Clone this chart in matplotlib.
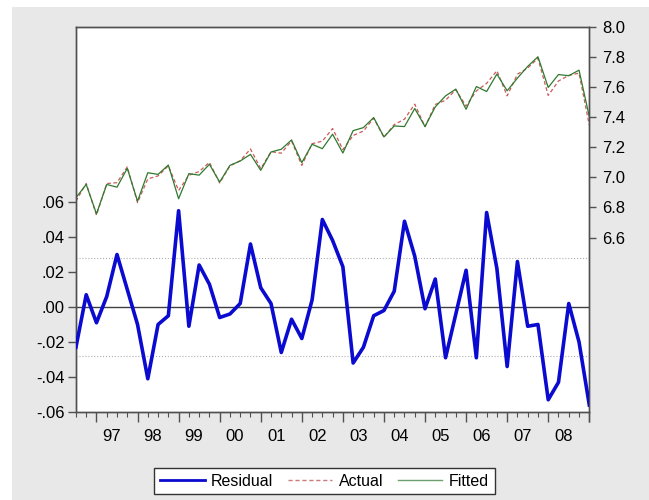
import matplotlib
matplotlib.use('Agg')
import matplotlib.pyplot as plt
from matplotlib.lines import Line2D
from matplotlib.patches import Rectangle
import numpy as np

plt.rcParams['font.family'] = ['Liberation Sans', 'DejaVu Sans']

# quarterly sample 1996Q3 - 2009Q1
years = ['97', '98', '99', '00', '01', '02', '03', '04', '05', '06', '07', '08']

residual = [-0.023, 0.007, -0.009, 0.006, 0.030, 0.010, -0.010, -0.041, -0.010, -0.005,
            0.055, -0.011, 0.024, 0.013, -0.006, -0.004, 0.002, 0.036, 0.011, 0.002,
            -0.026, -0.007, -0.018, 0.004, 0.050, 0.038, 0.023, -0.032, -0.023, -0.005,
            -0.002, 0.009, 0.049, 0.029, -0.001, 0.016, -0.029, -0.004, 0.021, -0.029,
            0.054, 0.022, -0.034, 0.026, -0.011, -0.010, -0.053, -0.043, 0.002, -0.020,
            -0.056]

fitted = [6.865, 6.953, 6.758, 6.953, 6.935, 7.060, 6.842, 7.031, 7.020, 7.082,
          6.858, 7.025, 7.015, 7.087, 6.969, 7.080, 7.109, 7.153, 7.047, 7.169,
          7.187, 7.249, 7.098, 7.220, 7.191, 7.287, 7.162, 7.311, 7.331, 7.398,
          7.269, 7.342, 7.338, 7.458, 7.338, 7.469, 7.542, 7.587, 7.453, 7.604,
          7.571, 7.687, 7.576, 7.660, 7.738, 7.802, 7.598, 7.684, 7.676, 7.713,
          7.404]

actual = [6.842, 6.960, 6.749, 6.959, 6.965, 7.070, 6.832, 6.990, 7.010, 7.077,
          6.913, 7.014, 7.039, 7.100, 6.963, 7.076, 7.111, 7.189, 7.058, 7.171,
          7.161, 7.242, 7.080, 7.224, 7.241, 7.325, 7.185, 7.279, 7.308, 7.393,
          7.267, 7.351, 7.387, 7.487, 7.337, 7.485, 7.513, 7.583, 7.474, 7.575,
          7.625, 7.709, 7.542, 7.686, 7.727, 7.792, 7.545, 7.641, 7.678, 7.693,
          7.348]

se = 0.028

t = np.arange(len(residual))
q1 = np.arange(2, len(residual), 4)   # first quarter of each year

fig = plt.figure(figsize=(6.49, 5.0), dpi=100, facecolor='white')
# grey panel behind the graph (white margin on the left and top)
fig.add_artist(Rectangle((12 / 649, 0), 1, 1 - 7 / 500, transform=fig.transFigure,
                         facecolor='#e8e8e8', edgecolor='none', zorder=-10))

ax = fig.add_axes([0.117, 0.176, 0.791, 0.770])
ax2 = ax.twinx()

ax2.set_zorder(ax.get_zorder() - 1)
ax2.patch.set_visible(True)
ax2.patch.set_facecolor('white')
ax.patch.set_visible(False)

ax.axhline(0, color='#404040', lw=1.0, zorder=1)
ax.axhline(se, color='#b0b0b0', lw=0.8, ls=':', zorder=1)
ax.axhline(-se, color='#b0b0b0', lw=0.8, ls=':', zorder=1)
ax.plot(t, residual, color='#0a0ad0', lw=2.6, zorder=3)

ax2.plot(t, actual, color='#cc5a5a', lw=0.9, ls=(0, (3, 2)))
ax2.plot(t, fitted, color='#2f7a2f', lw=0.9)

ax.set_xlim(0, len(residual) - 1)
ax.set_ylim(-0.06, 0.16)
ax.set_yticks([0.06, 0.04, 0.02, 0.0, -0.02, -0.04, -0.06])
ax.set_yticklabels(['.06', '.04', '.02', '.00', '-.02', '-.04', '-.06'])
ax2.set_ylim(5.44, 8.0)
ax2.set_yticks([6.6, 6.8, 7.0, 7.2, 7.4, 7.6, 7.8, 8.0])
ax2.set_yticklabels(['6.6', '6.8', '7.0', '7.2', '7.4', '7.6', '7.8', '8.0'])

ax.set_xticks(list(q1) + [len(residual) - 1])
ax.set_xticklabels([])
ax.set_xticks(t, minor=True)
ax.tick_params(axis='x', which='major', length=7, width=1, color='#505050', direction='out')
ax.tick_params(axis='x', which='minor', length=3.5, width=0.8, color='#505050', direction='out')
ax.tick_params(axis='y', length=6, width=1, color='#505050', labelsize=12, pad=2)
ax2.tick_params(axis='y', length=5, width=1, color='#505050', labelsize=12, pad=4)

for pos, lab in zip(q1 + 1.5, years):
    ax.text(pos, -0.045, lab, transform=ax.get_xaxis_transform(), ha='center', va='top',
            fontsize=12)

for a in (ax, ax2):
    for s in a.spines.values():
        s.set_color('#505050')
        s.set_linewidth(1)

handles = [Line2D([], [], color='#0a0ad0', lw=2),
           Line2D([], [], color='#cc7a7a', lw=1, ls=(0, (3, 2))),
           Line2D([], [], color='#6ea06e', lw=1)]
leg = fig.legend(handles, ['Residual', 'Actual', 'Fitted'], loc='center',
                 bbox_to_anchor=(0.5, 0.038), ncol=3, fontsize=11.5, frameon=True,
                 fancybox=False, edgecolor='#333333', facecolor='white', framealpha=1,
                 handlelength=2.8, columnspacing=0.9, handletextpad=0.4, borderpad=0.35)
leg.get_frame().set_linewidth(1)

fig.savefig('out.png', dpi=100, facecolor=fig.get_facecolor())
